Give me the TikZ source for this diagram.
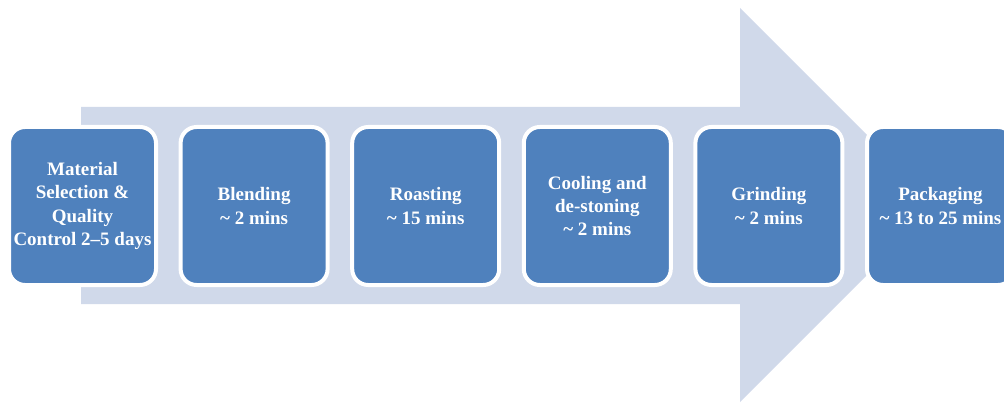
\documentclass[tikz,border=0pt]{standalone}
\usepackage{fontspec}
\setmainfont{Liberation Serif}
\usetikzlibrary{positioning}
\definecolor{stageblue}{RGB}{79,129,189}
\definecolor{flowgrey}{RGB}{208,217,234}

\tikzset{stage/.style={fill=stageblue, draw=white, line width=4pt, rounded corners=16pt, minimum width=147pt, minimum height=158pt, outer sep=0pt, inner sep=0pt, align=center, text=white, font=\fontsize{19}{23.3}\selectfont\bfseries}}

\begin{document}
\begin{tikzpicture}[x=1pt, y=1pt, node distance=24.6pt]
\useasboundingbox (0,0) rectangle (1004,402);
\clip (0,0) rectangle (1004,402);
% big flow arrow behind the stages
\fill[flowgrey] (81,295) -- (740,295) -- (740,394) -- (937,197) -- (740,0) -- (740,98) -- (81,98) -- cycle;
% stages
\node[stage] (matsel) at (82.5,196) {Material\\Selection \&\\Quality\\Control 2--5 days};
\node[stage, right=of matsel] (blend) {Blending\\\textasciitilde\ 2 mins};
\node[stage, right=of blend] (roast) {Roasting\\\textasciitilde\ 15 mins};
\node[stage, right=of roast] (cool) {Cooling and\\de-stoning\\\textasciitilde\ 2 mins};
\node[stage, right=of cool] (grind) {Grinding\\\textasciitilde\ 2 mins};
\node[stage, right=of grind] (pack) {Packaging\\\textasciitilde\ 13 to 25 mins};
\end{tikzpicture}
\end{document}
